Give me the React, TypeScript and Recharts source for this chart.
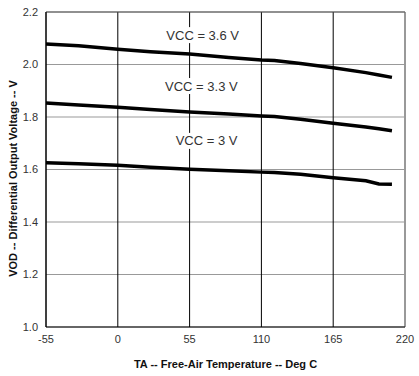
import React from 'react';
import { LineChart, Line, XAxis, YAxis, CartesianGrid, ReferenceLine, ReferenceDot, Label } from 'recharts';

// temperatures (Deg C) where the curves were read
const TEMPS = [-55, -30, 0, 25, 55, 85, 110, 120, 140, 165, 190, 200, 210];
const VOD_36 = [2.078, 2.071, 2.058, 2.049, 2.04, 2.027, 2.017, 2.015, 2.004, 1.988, 1.969, 1.96, 1.951];
const VOD_33 = [1.853, 1.846, 1.837, 1.829, 1.819, 1.811, 1.804, 1.802, 1.791, 1.776, 1.762, 1.755, 1.748];
const VOD_30 = [1.626, 1.622, 1.616, 1.609, 1.601, 1.595, 1.59, 1.589, 1.582, 1.569, 1.557, 1.545, 1.544];

const X_TICKS = [-55, 0, 55, 110, 165, 220];
const Y_TICKS = [1.0, 1.2, 1.4, 1.6, 1.8, 2.0, 2.2];

const CURVE_LABELS = [
  { text: 'VCC = 3.6 V', t: 65, v: 2.112, w: 76 },
  { text: 'VCC = 3.3 V', t: 64, v: 1.918, w: 76 },
  { text: 'VCC = 3 V', t: 68, v: 1.709, w: 64 },
];

const data = TEMPS.map((t, i) => ({ t, a: VOD_36[i], b: VOD_33[i], c: VOD_30[i] }));

const font = 'Arial, "Liberation Sans", sans-serif';

export default function App() {
  return (
    <div style={{ position: 'absolute', left: 0, top: 0, background: '#fff' }}>
      <LineChart width={419} height={376} data={data} margin={{ top: 12, right: 14, bottom: 0, left: 0 }}>
        <CartesianGrid stroke="#999" horizontal={true} vertical={false} />
        <CartesianGrid stroke="#000" horizontal={false} vertical={true} />
        <XAxis
          dataKey="t" type="number" domain={[-55, 220]} ticks={X_TICKS} height={49}
          tickLine={false} axisLine={{ stroke: '#000' }}
          tick={{ fontSize: 11, fill: '#333', fontFamily: font }}
        >
          <Label value="TA -- Free-Air Temperature -- Deg C" position="insideBottom" offset={8}
            style={{ fontSize: 11, fontWeight: 'bold', fill: '#111', fontFamily: font }} />
        </XAxis>
        <YAxis
          type="number" domain={[1, 2.2]} ticks={Y_TICKS} width={46}
          tickLine={false} axisLine={{ stroke: '#000' }}
          tickFormatter={(v: number) => v.toFixed(1)}
          tick={{ fontSize: 11, fill: '#333', fontFamily: font }}
        >
          <Label
            content={(p: any) => {
              const vb = p.viewBox;
              const cx = 13;
              const cy = vb.y + vb.height / 2 + 9;
              return (
                <text x={cx} y={cy} transform={`rotate(-90 ${cx} ${cy})`} textAnchor="middle" dominantBaseline="central"
                  style={{ fontSize: 11, fontWeight: 'bold', fill: '#111', fontFamily: font }}>
                  VOD -- Differential Output Voltage -- V
                </text>
              );
            }}
          />
        </YAxis>
        <ReferenceLine x={220} stroke="#999" strokeWidth={2} />
        <ReferenceLine y={2.2} stroke="#555" />
        {CURVE_LABELS.map(l => (
          <ReferenceDot key={l.text} x={l.t} y={l.v} r={0}
            shape={(p: any) => (
              <g>
                <rect x={p.cx - l.w / 2} y={p.cy - 8} width={l.w} height={16} fill="#fff" />
                <text x={p.cx} y={p.cy} textAnchor="middle" dominantBaseline="central"
                  style={{ fontSize: 13, fill: '#333', fontFamily: font }}>{l.text}</text>
              </g>
            )}
          />
        ))}
        <Line dataKey="a" stroke="#000" strokeWidth={3.5} dot={false} isAnimationActive={false} />
        <Line dataKey="b" stroke="#000" strokeWidth={3.5} dot={false} isAnimationActive={false} />
        <Line dataKey="c" stroke="#000" strokeWidth={3.5} dot={false} isAnimationActive={false} />
      </LineChart>
    </div>
  );
}
